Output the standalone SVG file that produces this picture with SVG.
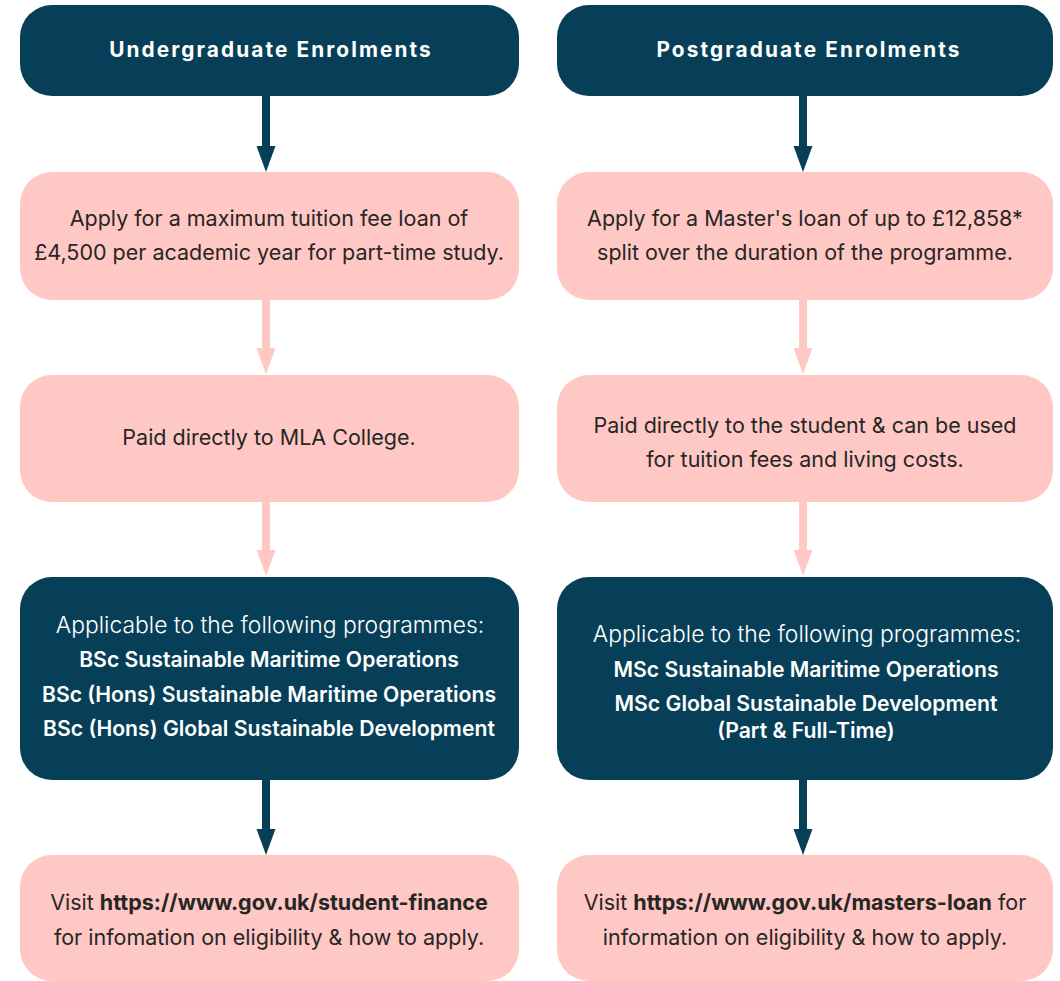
<svg xmlns="http://www.w3.org/2000/svg" width="1060" height="981" viewBox="0 0 1060 981">
<style>
  .dark { fill: #073F58; }
  .pink { fill: #FFC8C4; }
  text { font-family: Inter, "Noto Sans", "Liberation Sans", sans-serif; font-size: 21.5px; text-anchor: middle; }
  .hdr { fill: #FFFFFF; font-size: 20.8px; font-weight: 700; letter-spacing: 2.1px; }
  .w { fill: #FFFFFF; font-size: 22.9px; font-weight: 300; }
  .wb { fill: #FFFFFF; font-size: 21.2px; font-weight: 600; }
  .t { fill: #262626; }
  .b { font-weight: 700; }
  .sd { fill: none; stroke: #073F58; stroke-width: 8; }
  .sp { fill: none; stroke: #FFC8C4; stroke-width: 8; }
</style>
<rect width="1060" height="981" fill="#FFFFFF"/>
<g id="connectors">
  <line class="sd" x1="266" y1="96" x2="266" y2="148"/>
  <polygon class="dark" points="256.5,146 275.5,146 266,172"/>
  <line class="sp" x1="266" y1="300" x2="266" y2="350"/>
  <polygon class="pink" points="256.5,348 275.5,348 266,374"/>
  <line class="sp" x1="266" y1="502" x2="266" y2="552"/>
  <polygon class="pink" points="256.5,550 275.5,550 266,576"/>
  <line class="sd" x1="266" y1="780" x2="266" y2="831"/>
  <polygon class="dark" points="256.5,829 275.5,829 266,855"/>
  <line class="sd" x1="803" y1="96" x2="803" y2="148"/>
  <polygon class="dark" points="793.5,146 812.5,146 803,172"/>
  <line class="sp" x1="803" y1="300" x2="803" y2="350"/>
  <polygon class="pink" points="793.5,348 812.5,348 803,374"/>
  <line class="sp" x1="803" y1="502" x2="803" y2="552"/>
  <polygon class="pink" points="793.5,550 812.5,550 803,576"/>
  <line class="sd" x1="803" y1="780" x2="803" y2="831"/>
  <polygon class="dark" points="793.5,829 812.5,829 803,855"/>
</g>
<g id="ug-header">
  <rect class="dark" x="20" y="5" width="499" height="91" rx="32"/>
  <text class="hdr" x="271" y="57">Undergraduate Enrolments</text>
</g>
<g id="pg-header">
  <rect class="dark" x="557" y="5" width="496" height="91" rx="32"/>
  <text class="hdr" x="809" y="57">Postgraduate Enrolments</text>
</g>
<g id="ug-loan">
  <rect class="pink" x="20" y="172" width="499" height="128" rx="32"/>
  <text class="t" x="269" y="226">Apply for a maximum tuition fee loan of</text>
  <text class="t" x="269" y="260">£4,500 per academic year for part-time study.</text>
</g>
<g id="pg-loan">
  <rect class="pink" x="557" y="172" width="496" height="128" rx="32"/>
  <text class="t" x="805" y="226">Apply for a Master's loan of up to £12,858*</text>
  <text class="t" x="805" y="260">split over the duration of the programme.</text>
</g>
<g id="ug-paid">
  <rect class="pink" x="20" y="375" width="499" height="127" rx="32"/>
  <text class="t" x="269" y="445">Paid directly to MLA College.</text>
</g>
<g id="pg-paid">
  <rect class="pink" x="557" y="375" width="496" height="127" rx="32"/>
  <text class="t" x="805" y="433">Paid directly to the student &amp; can be used</text>
  <text class="t" x="805" y="467">for tuition fees and living costs.</text>
</g>
<g id="ug-programmes">
  <rect class="dark" x="20" y="577" width="499" height="203" rx="32"/>
  <text class="w" x="270" y="633">Applicable to the following programmes:</text>
  <text class="wb" x="269" y="667">BSc Sustainable Maritime Operations</text>
  <text class="wb" x="269" y="702">BSc (Hons) Sustainable Maritime Operations</text>
  <text class="wb" x="269" y="736">BSc (Hons) Global Sustainable Development</text>
</g>
<g id="pg-programmes">
  <rect class="dark" x="557" y="577" width="496" height="203" rx="32"/>
  <text class="w" x="807" y="642">Applicable to the following programmes:</text>
  <text class="wb" x="806" y="677">MSc Sustainable Maritime Operations</text>
  <text class="wb" x="806" y="711">MSc Global Sustainable Development</text>
  <text class="wb" x="806" y="738">(Part &amp; Full-Time)</text>
</g>
<g id="ug-visit">
  <rect class="pink" x="20" y="855" width="499" height="126" rx="32"/>
  <text class="t" x="269" y="910">Visit <tspan class="b">https://www.gov.uk/student-finance</tspan></text>
  <text class="t" x="269" y="945">for infomation on eligibility &amp; how to apply.</text>
</g>
<g id="pg-visit">
  <rect class="pink" x="557" y="855" width="496" height="126" rx="32"/>
  <text class="t" x="805" y="910">Visit <tspan class="b">https://www.gov.uk/masters-loan</tspan> for</text>
  <text class="t" x="805" y="945">information on eligibility &amp; how to apply.</text>
</g>
</svg>
